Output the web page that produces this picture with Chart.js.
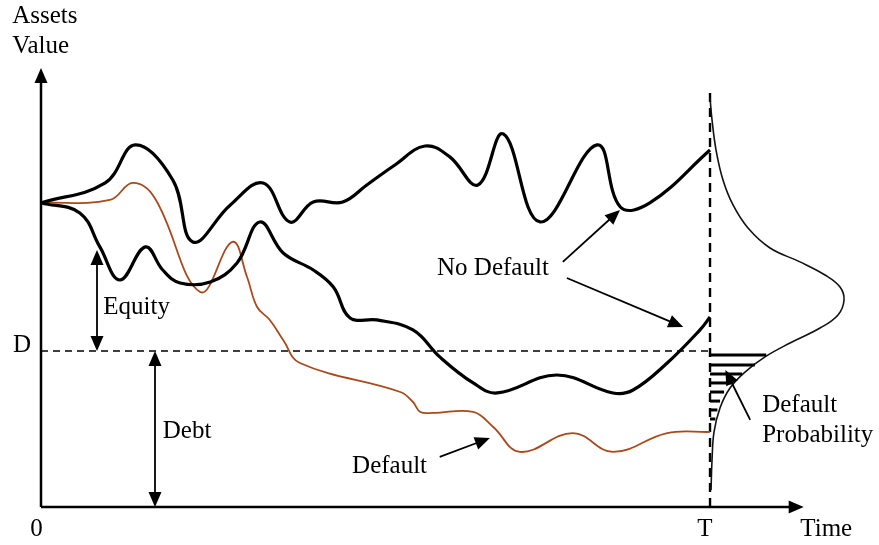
<!DOCTYPE html>
<html>
<head>
<meta charset="utf-8">
<script src="https://cdn.jsdelivr.net/npm/chart.js@4"></script>
<style>
  html, body { margin: 0; padding: 0; background: #fff; }
  #mertonChart { display: block; }
</style>
</head>
<body>
<canvas id="mertonChart" width="879" height="545"></canvas>
<script>
// Merton model sketch: time runs 0..T (T = 10), asset value scaled so debt D = 100
var T = 10;
var D = 100;

// asset paths [time, value]
var noDefaultHigh = [[0,194.9],[0.96,207.7],[1.41,232.1],[1.97,209.6],[2.27,169.9],[2.83,193.6],[3.32,207.7],
  [3.72,182.7],[4.07,195.5],[4.51,195.5],[4.87,206.4],[5.29,219.2],[5.74,231.4],[6.11,224.4],[6.53,206.4],
  [6.91,239.1],[7.46,182.7],[8.31,232.1],[8.66,192.3],[9.10,194.9],[10,228.8]];
var noDefaultLow = [[0,194.9],[0.58,188.5],[0.88,166.7],[1.18,145.5],[1.56,166.7],[1.82,151.9],[2.08,143.6],
  [2.53,144.2],[2.93,156.4],[3.27,182.7],[3.62,162.8],[4.07,151.9],[4.37,141.0],[4.62,121.2],[5.02,119.9],
  [5.56,113.5],[5.96,96.2],[6.46,79.5],[6.82,73.1],[7.71,84.6],[8.55,73.1],[8.85,75.0],[9.36,92.3],[9.85,113.5],[10,121.8]];
var defaultPath = [[0,194.9],[1.03,196.8],[1.37,207.7],[1.70,198.0],[2.38,137.8],[2.86,169.9],[3.08,147.4],
  [3.23,128.2],[3.42,119.9],[3.62,107.1],[3.87,92.3],[5.37,73.7],[5.56,67.3],[5.67,60.9],[5.86,60.3],
  [6.46,60.9],[6.76,51.3],[7.16,35.3],[7.95,47.4],[8.55,35.3],[9.36,47.4],[10,48.1]];

// distribution of asset value at T, drawn sideways: [T + density, value]
var densityAtT = [[10.0,262.2],[10.03,248.1],[10.09,228.8],[10.194,209.6],[10.344,193.6],[10.568,178.8],
  [10.897,166.0],[11.345,157.1],[11.719,148.7],[11.943,141.0],[12.003,132.7],[11.913,123.1],[11.644,114.7],
  [11.196,105.1],[10.822,96.2],[10.523,86.5],[10.299,76.3],[10.149,63.5],[10.06,48.1],[10.03,30.1],[10.015,10.9]];

// shaded default region under D
var hatchLevels = [97.4, 91.0, 85.3, 79.5, 73.7, 67.9, 62.2, 56.4];
var hatchEnds = [10.84, 10.67, 10.48, 10.32, 10.21, 10.15, 10.11, 10.08];

// arrows [from, to, double headed]
var arrows = [
  [[0, 0], [0, 281.4], false],
  [[0, 0], [11.4, 0], false],
  [[0.837, 164.7], [0.837, 100], true],
  [[1.704, 100], [1.704, 0], true],
  [[7.80, 157.1], [8.655, 190.4], false],
  [[7.86, 146.8], [9.60, 115.4], false],
  [[5.96, 32.1], [6.71, 44.2], false],
  [[10.60, 55.8], [10.23, 87.8], false]
];

// text labels [text, left, baseline]
var labels = [
  ['Assets', -0.43, 310.3],
  ['Value', -0.43, 291.0],
  ['D', -0.42, 99.4],
  ['Equity', 0.93, 123.7],
  ['Debt', 1.82, 44.2],
  ['No Default', 5.92, 148.7],
  ['Default', 4.65, 21.8],
  ['Default', 10.78, 60.9],
  ['Probability', 10.78, 41.7],
  ['0', -0.16, -18.6],
  ['T', 9.81, -18.6],
  ['Time', 11.35, -18.6]
];

function toPts(arr) {
  return arr.map(function (p) { return { x: p[0], y: p[1] }; });
}

var decor = {
  id: 'decor',
  afterDatasetsDraw: function (chart) {
    var ctx = chart.ctx;
    var xs = chart.scales.x, ys = chart.scales.y;
    function px(v) { return xs.getPixelForValue(v); }
    function py(v) { return ys.getPixelForValue(v); }

    ctx.save();
    ctx.strokeStyle = '#000';
    ctx.fillStyle = '#000';

    // hatch
    ctx.lineWidth = 3;
    hatchLevels.forEach(function (lv, i) {
      ctx.beginPath();
      ctx.moveTo(px(T), py(lv));
      ctx.lineTo(px(hatchEnds[i]), py(lv));
      ctx.stroke();
    });

    // arrows
    function head(x1, y1, x2, y2, len, wid) {
      var a = Math.atan2(y2 - y1, x2 - x1);
      ctx.beginPath();
      ctx.moveTo(x2, y2);
      ctx.lineTo(x2 - len * Math.cos(a) + wid * Math.sin(a), y2 - len * Math.sin(a) - wid * Math.cos(a));
      ctx.lineTo(x2 - len * Math.cos(a) - wid * Math.sin(a), y2 - len * Math.sin(a) + wid * Math.cos(a));
      ctx.closePath();
      ctx.fill();
    }
    arrows.forEach(function (ar, i) {
      var x1 = px(ar[0][0]), y1 = py(ar[0][1]), x2 = px(ar[1][0]), y2 = py(ar[1][1]);
      var axis = i < 2;
      ctx.lineWidth = axis ? 2.5 : 1.8;
      var len = axis ? 15 : 15, wid = axis ? 6.5 : 6.5;
      var a = Math.atan2(y2 - y1, x2 - x1);
      var sx = ar[2] ? x1 + len * 0.8 * Math.cos(a) : x1, sy = ar[2] ? y1 + len * 0.8 * Math.sin(a) : y1;
      ctx.beginPath();
      ctx.moveTo(sx, sy);
      ctx.lineTo(x2 - len * 0.8 * Math.cos(a), y2 - len * 0.8 * Math.sin(a));
      ctx.stroke();
      head(x1, y1, x2, y2, len, wid);
      if (ar[2]) head(x2, y2, x1, y1, len, wid);
    });

    // text
    ctx.font = '25px "Liberation Serif", "Times New Roman", serif';
    ctx.textAlign = 'left';
    ctx.textBaseline = 'alphabetic';
    labels.forEach(function (l) {
      ctx.fillText(l[0], px(l[1]), py(l[2]));
    });
    ctx.restore();
  }
};

var ctxMerton = document.getElementById('mertonChart').getContext('2d');
var mertonChart = new Chart(ctxMerton, {
  type: 'scatter',
  data: {
    datasets: [
      {
        label: 'No Default (high)',
        data: toPts(noDefaultHigh),
        borderColor: '#000',
        borderWidth: 3.2,
        showLine: true,
        tension: 0.4,
        pointRadius: 0
      },
      {
        label: 'No Default (low)',
        data: toPts(noDefaultLow),
        borderColor: '#000',
        borderWidth: 3.2,
        showLine: true,
        tension: 0.4,
        pointRadius: 0
      },
      {
        label: 'Default',
        data: toPts(defaultPath),
        borderColor: '#a84a1c',
        borderWidth: 1.8,
        showLine: true,
        tension: 0.4,
        pointRadius: 0
      },
      {
        label: 'Distribution at T',
        data: toPts(densityAtT),
        borderColor: '#111',
        borderWidth: 1.6,
        showLine: true,
        tension: 0.4,
        pointRadius: 0,
        clip: false
      },
      {
        label: 'D',
        data: [{ x: 0, y: D }, { x: T, y: D }],
        borderColor: '#000',
        borderWidth: 1.6,
        borderDash: [7, 5],
        showLine: true,
        pointRadius: 0
      },
      {
        label: 'T',
        data: [{ x: T, y: 0 }, { x: T, y: 266 }],
        borderColor: '#000',
        borderWidth: 2.4,
        borderDash: [9, 6],
        showLine: true,
        pointRadius: 0,
        clip: false
      }
    ]
  },
  options: {
    responsive: false,
    animation: false,
    devicePixelRatio: 1,
    layout: {
      padding: { left: 41, right: 79, top: 70, bottom: 38 }
    },
    scales: {
      x: { type: 'linear', min: 0, max: 11.345, display: false },
      y: { type: 'linear', min: 0, max: 280.1, display: false }
    },
    plugins: {
      legend: { display: false },
      tooltip: { enabled: false }
    }
  },
  plugins: [decor]
});
</script>
</body>
</html>
